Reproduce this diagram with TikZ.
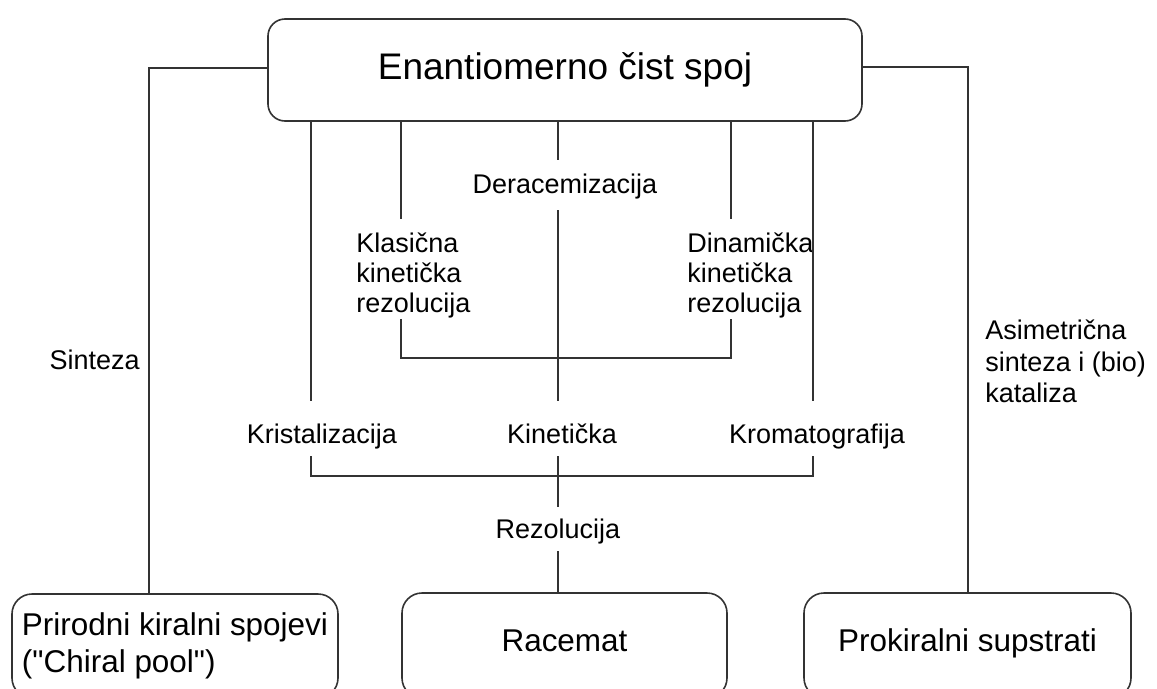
\documentclass[tikz,border=0pt]{standalone}
\usepackage{fontspec}
\setmainfont{Liberation Sans}[Ligatures=TeXOff]
\usetikzlibrary{calc}
\begin{document}
\begin{tikzpicture}[x=0.75pt,y=-0.75pt,
  ln/.style={draw=black!80, line width=1.2pt},
  box/.style={draw=black!80, line width=1.2pt, rounded corners=15pt, inner sep=0pt},
  lbl/.style={inner sep=0pt, font=\fontsize{20.25pt}{22.5pt}\selectfont},
  rowlbl/.style={lbl, text height=31.5pt, text depth=9.75pt, anchor=base},
  bigtxt/.style={font=\fontsize{23.6pt}{27.75pt}\selectfont}
]
\useasboundingbox (0,0) rectangle (1157,689);
\clip (0,0) rectangle (1157,689);

% boxes
\node[box, rounded corners=12.75pt, minimum width=445.5pt, minimum height=76.5pt,
      font=\fontsize{27.75pt}{33pt}\selectfont] (top) at (565,70) {Enantiomerno čist spoj};
\node[box, bigtxt, minimum width=244.5pt, minimum height=78pt, align=left]
      (chiral) at (175,646) {Prirodni kiralni spojevi\\("Chiral pool")};
\node[box, bigtxt, minimum width=243.75pt, minimum height=78.75pt, text depth=7.5pt]
      (rac) at (564.5,645.5) {Racemat};
\node[box, bigtxt, minimum width=245.25pt, minimum height=78.75pt, text depth=7.5pt]
      (prok) at (967.5,645.5) {Prokiralni supstrati};

% labels
\node[lbl, text height=24.75pt, text depth=12.75pt, anchor=base] (der) at (565,193) {Deracemizacija};
\node[rowlbl] (kris) at (322,443) {Kristalizacija};
\node[rowlbl] (kin) at (562,443) {Kinetička};
\node[rowlbl] (krom) at (817,443) {Kromatografija};
\node[lbl, text height=23.25pt, text depth=9.75pt, anchor=base] (rez) at (558,538) {Rezolucija};
\node[lbl, anchor=base east] (sin) at (140,369) {Sinteza};
\node[lbl, align=left, anchor=north west] (kla) at (356,233) {Klasična\\kinetička\\rezolucija};
\node[lbl, align=left, anchor=north west] (dyn) at (687,233) {Dinamička\\kinetička\\rezolucija};
\node[lbl, align=left, anchor=north west, font=\fontsize{20.25pt}{23.6pt}\selectfont]
      (asi) at (985,320) {Asimetrična\\sinteza i (bio)\\kataliza};

% helper coordinates
\coordinate (xs) at (149,68);
\coordinate (xa) at (968,67);
\coordinate (c1) at (401,358);
\coordinate (c2) at (731,358);
\coordinate (c3) at (311,476);
\coordinate (c4) at (813,476);
\coordinate (xm) at (558,0);

% connectors
\draw[ln] (top.west |- xs) -- (xs) -- (chiral.north -| xs);
\draw[ln] (top.east |- xa) -- (xa) -- (prok.north -| xa);
\draw[ln] (top.south -| c3) -- (kris.north -| c3);
\draw[ln] (kris.south -| c3) -- (c3) -- (c4) -- (krom.south -| c4);
\draw[ln] (top.south -| c4) -- (krom.north -| c4);
\draw[ln] (top.south -| c1) -- ($(kla.north -| c1)+(0,-14)$);
\draw[ln] (kla.south -| c1) -- (c1) -- (c2) -- (dyn.south -| c2);
\draw[ln] (top.south -| c2) -- ($(dyn.north -| c2)+(0,-14)$);
\draw[ln] (top.south -| xm) -- (der.north -| xm);
\draw[ln] (der.south -| xm) -- (kin.north -| xm);
\draw[ln] (kin.south -| xm) -- (rez.north -| xm);
\draw[ln] (rez.south -| xm) -- (rac.north -| xm);
\end{tikzpicture}
\end{document}
